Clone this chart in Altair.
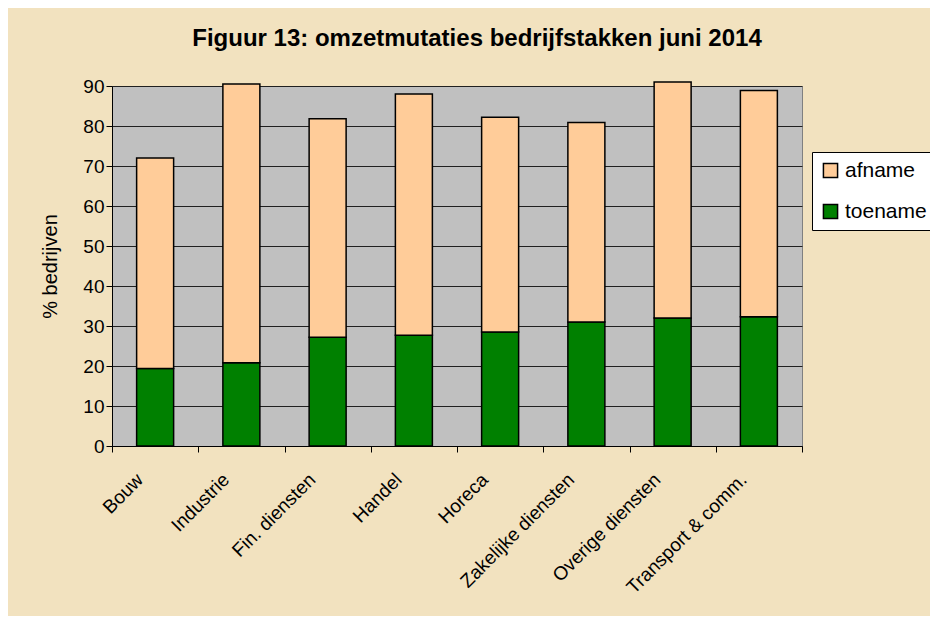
import altair as alt
import pandas as pd

categories = ["Bouw", "Industrie", "Fin. diensten", "Handel", "Horeca",
              "Zakelijke diensten", "Overige diensten", "Transport & comm."]
toename = [19.4, 20.8, 27.2, 27.7, 28.5, 31.0, 32.0, 32.3]
afname = [52.6, 69.7, 54.6, 60.3, 53.7, 49.9, 59.0, 56.6]
series = ["afname", "toename"]
colors = ["#FFCC99", "#008000"]

rows = []
for c, t, a in zip(categories, toename, afname):
    rows.append({"cat": c, "serie": "toename", "val": t, "ord": 0})
    rows.append({"cat": c, "serie": "afname", "val": a, "ord": 1})
df = pd.DataFrame(rows)

FONT = "Liberation Sans"
W, H = 690, 360
PL, PT, PR, PB = 104, 78, 128, 170

chart = alt.Chart(df).mark_bar(size=37, stroke="black", strokeWidth=1.5).encode(
    x=alt.X("cat:N", sort=categories, title=None,
            scale=alt.Scale(paddingInner=0, paddingOuter=0),
            axis=alt.Axis(labelAngle=-45, tickBand="extent", labelFontSize=19,
                          labelFont=FONT, labelColor="black", domainColor="black",
                          tickColor="black", tickSize=6, labelPadding=18, labelOffset=-22,
                          grid=False)),
    y=alt.Y("val:Q", stack="zero", title="% bedrijven",
            scale=alt.Scale(domain=[0, 90], nice=False),
            axis=alt.Axis(values=list(range(0, 91, 10)), labelFontSize=19, labelFont=FONT,
                          labelColor="black", titleFontSize=20, titleFont=FONT,
                          titleFontWeight="normal", titleColor="black", titlePadding=22,
                          domainColor="black", tickColor="black", tickSize=6,
                          gridColor="#202020", gridWidth=1, grid=True)),
    color=alt.Color("serie:N", scale=alt.Scale(domain=series, range=colors),
                    legend=alt.Legend(title=None, orient="none", legendX=700, legendY=66,
                                      fillColor="white", strokeColor="black", padding=8,
                                      symbolType="square", symbolSize=200,
                                      symbolStrokeColor="black", symbolStrokeWidth=1.5,
                                      labelFontSize=21, labelFont=FONT, labelColor="black",
                                      rowPadding=19, labelLimit=200, symbolOffset=0)),
    order=alt.Order("ord:Q"),
).properties(
    width=W, height=H,
    title=alt.TitleParams("Figuur 13: omzetmutaties bedrijfstakken juni 2014",
                          font=FONT, fontSize=24, fontWeight="bold", color="black",
                          anchor="middle", dx=20, offset=26),
    autosize=alt.AutoSizeParams(type="none"),
    padding={"left": PL, "top": PT, "right": PR, "bottom": PB},
    background="#F2E2BF",
).configure_view(fill="#C0C0C0", stroke="#808080", strokeWidth=1)

chart.save("out.html", embed_options={"renderer": "svg", "actions": False})
